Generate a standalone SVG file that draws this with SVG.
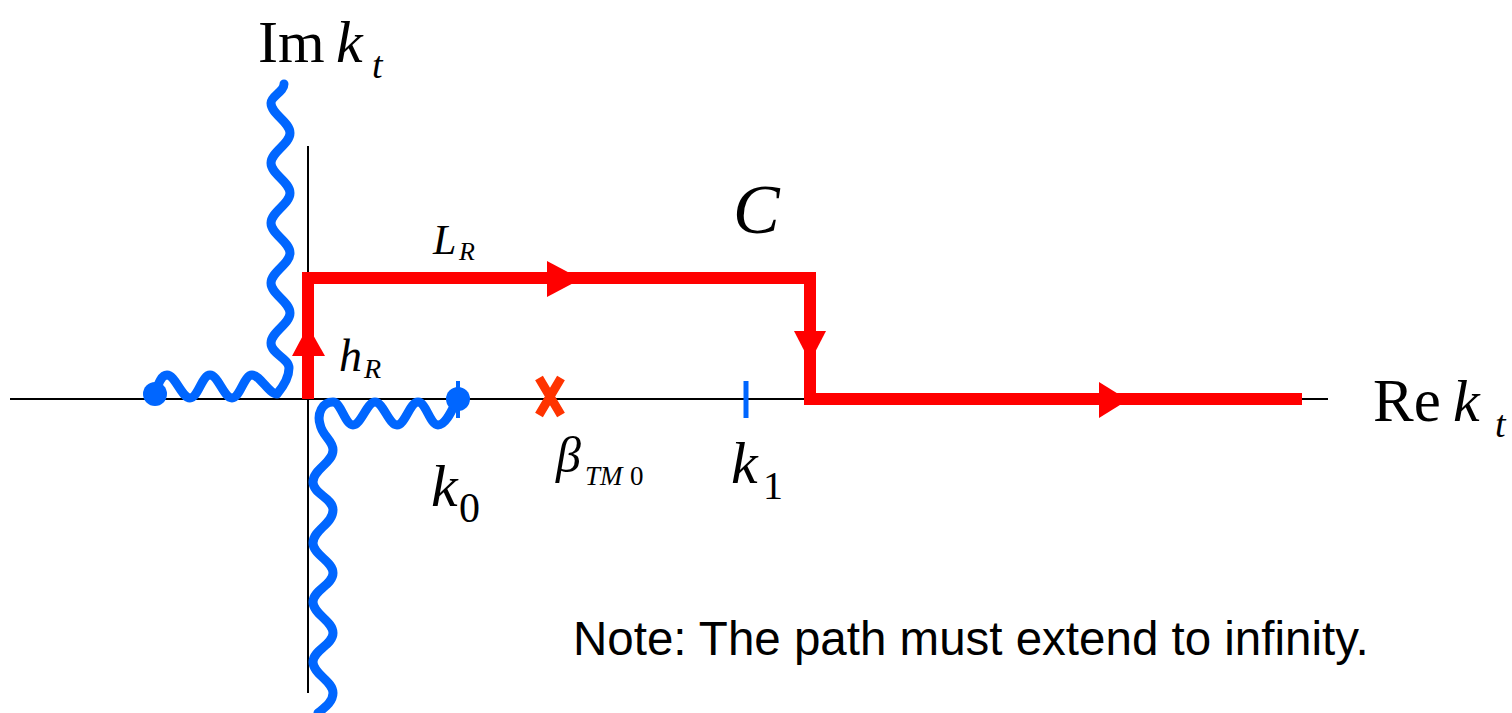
<svg xmlns="http://www.w3.org/2000/svg" width="1512" height="713" viewBox="0 0 1512 713">
<style>
.ax{stroke:#000;stroke-width:2;fill:none}
.cut{stroke:#0066FF;stroke-width:9;fill:none;stroke-linecap:round;stroke-linejoin:round}
.path{stroke:#FF0000;stroke-width:12;fill:none;stroke-linejoin:miter}
.ah{fill:#FF0000}
.m{font-family:"Liberation Serif","Times New Roman",serif;fill:#000}
.i{font-style:italic}
.note{font-family:"Liberation Sans",Arial,sans-serif;font-size:47.5px;fill:#000}
</style>
<rect width="1512" height="713" fill="#fff"/>
<g id="axes">
<line class="ax" x1="10" y1="399" x2="1328" y2="399"/>
<line class="ax" x1="308" y1="146" x2="308" y2="693"/>
</g>
<g id="branch-cut-upper">
<path class="cut" d="M284 84 C284 92 271 96 271 103 C271 114 290 122 290 133 C290 144 271 152 271 163 C271 174 290 182 290 193 C290 204 271 212 271 223 C271 234 290 242 290 253 C290 264 271 272 271 283 C271 294 290 302 290 313 C290 324 271 332 271 343 C271 354 289 358 289 368 C289 378 282 388 277 394 C269 394 260 375 252 375 C244 375 240 398 232 398 C224 398 218 375 210 375 C202 375 198 398 190 398 C182 398 175 375 167 375 C161 375 158 385 155 393"/>
<circle cx="155" cy="394" r="12" fill="#0066FF"/>
</g>
<g id="branch-cut-lower">
<path class="cut" d="M458 398 C452 410 446 425 438 425 C430 425 426 402 418 402 C410 402 405 425 397 425 C389 425 383 402 375 402 C367 402 361 425 353 425 C345 425 341 402 333 402 C322 402 317 414 320 424 C322 436 333 440 333 450 C333 463 313 469 313 482 C313 494 333 498 333 510 C333 524 313 530 313 543 C313 555 333 561 333 573 C333 585 313 590 313 602 C313 614 333 621 333 633 C333 645 313 650 313 662 C313 674 333 681 333 693 C333 702 324 708 318 713"/>
<circle cx="458" cy="399" r="12" fill="#0066FF"/>
<line x1="458" y1="381" x2="458" y2="418" stroke="#0066FF" stroke-width="4"/>
</g>
<g id="contour">
<polyline class="path" points="308,399 308,278 810,278 810,399 1302,399"/>
<polygon class="ah" points="308,326 292,356 325,356"/>
<polygon class="ah" points="581,279 547,261 547,297"/>
<polygon class="ah" points="810,362 794,331 826,331"/>
<polygon class="ah" points="1128,400 1099,382 1099,418"/>
</g>
<g id="pole-beta">
<path d="M539 378 L561 415 M561 378 L539 415" stroke="#FF3300" stroke-width="9" fill="none"/>
</g>
<g id="point-k1">
<line x1="746" y1="381" x2="746" y2="418" stroke="#0066FF" stroke-width="5"/>
</g>
<g id="labels">
<text class="m" x="258" y="62" font-size="60">Im</text>
<text class="m i" x="336" y="62" font-size="60">k</text>
<text class="m i" x="372" y="78" font-size="38">t</text>
<text class="m" x="1373" y="421" font-size="61">Re</text>
<text class="m i" x="1453" y="421" font-size="60">k</text>
<text class="m i" x="1495" y="437" font-size="38">t</text>
<text class="m i" x="733" y="233" font-size="70">C</text>
<text class="m i" x="433" y="254" font-size="42">L</text>
<text class="m i" x="459" y="260" font-size="26">R</text>
<text class="m i" x="339" y="371" font-size="46">h</text>
<text class="m i" x="364" y="378" font-size="28">R</text>
<text class="m i" x="431" y="506" font-size="60">k</text>
<text class="m" x="459" y="522" font-size="42">0</text>
<text class="m i" x="556" y="472" font-size="50">β</text>
<text class="m i" x="585" y="485" font-size="27">TM</text>
<text class="m" x="630" y="485" font-size="27">0</text>
<text class="m i" x="731" y="483" font-size="60">k</text>
<text class="m" x="763" y="499" font-size="40">1</text>
<text class="note" x="573" y="655">Note: The path must extend to infinity.</text>
</g>
</svg>
